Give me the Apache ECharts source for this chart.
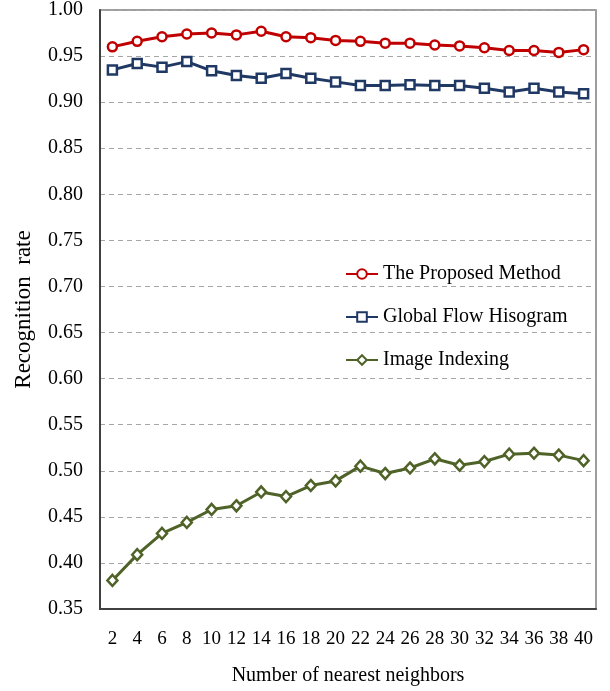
<!DOCTYPE html>
<html>
<head>
<meta charset="utf-8">
<script src="https://cdn.jsdelivr.net/npm/echarts@6/dist/echarts.min.js"></script>
<style>
  html, body { margin: 0; padding: 0; background: #fff; }
  #chart { width: 610px; height: 691px; }
</style>
</head>
<body>
<div id="chart"></div>
<script>
// number of nearest neighbors
const neighbors = ['2', '4', '6', '8', '10', '12', '14', '16', '18', '20',
                   '22', '24', '26', '28', '30', '32', '34', '36', '38', '40'];

const proposed = [0.960, 0.966, 0.971, 0.974, 0.975, 0.973, 0.977, 0.971, 0.970, 0.967,
                  0.966, 0.964, 0.964, 0.962, 0.961, 0.959, 0.956, 0.956, 0.954, 0.957];
const globalFlow = [0.935, 0.942, 0.938, 0.944, 0.934, 0.929, 0.926, 0.931, 0.926, 0.922,
                    0.918, 0.918, 0.919, 0.918, 0.918, 0.915, 0.911, 0.915, 0.911, 0.909];
const imageIndexing = [0.381, 0.409, 0.432, 0.444, 0.458, 0.462, 0.477, 0.472, 0.484, 0.489,
                       0.505, 0.497, 0.503, 0.513, 0.506, 0.510, 0.518, 0.519, 0.517, 0.511];

const font = 'Liberation Serif, Times New Roman, serif';

let myChart = echarts.init(document.getElementById('chart'));

const mkSeries = (name, data, color, symbol, size) => ({
    name: name,
    type: 'line',
    data: data,
    symbol: symbol,
    symbolSize: size,
    lineStyle: { color: color, width: 3 },
    itemStyle: { color: '#fff', borderColor: color, borderWidth: 2.5 },
    emphasis: { disabled: true },
    animation: false
});

let option = {
    backgroundColor: '#fff',
    grid: {
        left: 100, top: 10, right: 14, bottom: 80,
        show: true, borderColor: '#7f7f7f', borderWidth: 1.5
    },
    legend: {
        left: 340, top: 259,
        orient: 'vertical',
        itemGap: 23,
        itemWidth: 32, itemHeight: 12,
        textStyle: { fontFamily: font, fontSize: 20, color: '#000' },
        data: ['The Proposed Method', 'Global Flow Hisogram', 'Image Indexing']
    },
    xAxis: {
        type: 'category',
        data: neighbors,
        boundaryGap: true,
        name: 'Number of nearest neighbors',
        nameLocation: 'middle',
        nameGap: 57,
        nameTextStyle: { fontFamily: font, fontSize: 20, color: '#000' },
        axisLine: { lineStyle: { color: '#404040', width: 2 } },
        axisTick: { alignWithLabel: true, inside: true, length: 5, lineStyle: { color: '#404040' } },
        axisLabel: { fontFamily: font, fontSize: 19, color: '#000', margin: 21, interval: 0 }
    },
    yAxis: {
        type: 'value',
        min: 0.35, max: 1.00, interval: 0.05,
        name: 'Recognition  rate',
        nameLocation: 'middle',
        nameGap: 65,
        nameTextStyle: { fontFamily: font, fontSize: 23, color: '#000' },
        axisLine: { show: true, lineStyle: { color: '#404040', width: 2 } },
        axisTick: { show: false },
        axisLabel: {
            fontFamily: font, fontSize: 20, color: '#000', margin: 17,
            formatter: v => v.toFixed(2)
        },
        splitLine: { lineStyle: { color: '#a6a6a6', type: [5, 4], width: 1 } }
    },
    series: [
        mkSeries('The Proposed Method', proposed, '#c00000', 'circle', 9),
        mkSeries('Global Flow Hisogram', globalFlow, '#1f3864', 'rect', 9),
        mkSeries('Image Indexing', imageIndexing, '#4f6228', 'diamond', [10, 11])
    ]
};

myChart.setOption(option);
</script>
</body>
</html>
